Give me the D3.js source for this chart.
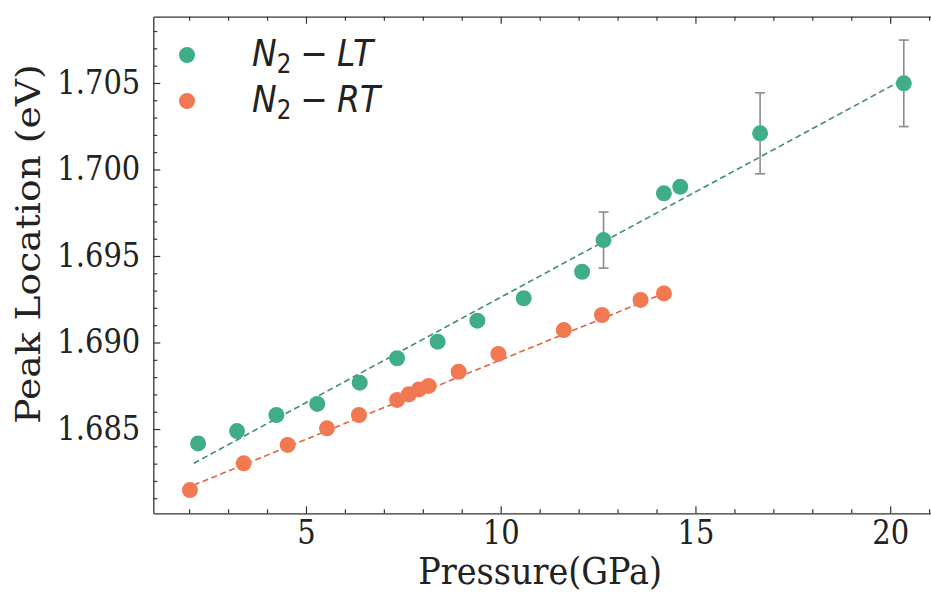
<!DOCTYPE html>
<html><head><meta charset="utf-8">
<script src="https://cdn.jsdelivr.net/npm/d3@7"></script>
<style>body{margin:0;background:#fff;overflow:hidden} svg{display:block}</style>
</head><body>
<svg id="chart" width="931" height="593"></svg>
<script>
// ---- data ----
const ltPressure = [2.23, 3.23, 4.24, 5.29, 6.38, 7.34, 8.38, 9.40, 10.59, 12.09, 12.64, 14.19, 14.61, 16.66, 20.35];
const ltPeak     = [1.68417, 1.68488, 1.68581, 1.68645, 1.68768, 1.68909, 1.69005, 1.69126, 1.69256, 1.69409, 1.69592, 1.69862, 1.69900, 1.70209, 1.70498];
const ltError    = [0, 0, 0, 0, 0, 0, 0, 0, 0, 0, 0.00162, 0, 0, 0.00234, 0.00250];
const rtPressure = [2.02, 3.40, 4.53, 5.54, 6.36, 7.34, 7.64, 7.90, 8.15, 8.92, 9.94, 11.62, 12.60, 13.59, 14.19];
const rtPeak     = [1.68147, 1.68302, 1.68408, 1.68504, 1.68581, 1.68668, 1.68701, 1.68729, 1.68749, 1.68831, 1.68934, 1.69072, 1.69159, 1.69246, 1.69284];
const ltFitPressure = [2.12, 20.27];
const ltFitPeak     = [1.68302, 1.70512];
const rtFitPressure = [2.12, 14.19];
const rtFitPeak     = [1.68176, 1.69284];
const xTickValues = [5, 10, 15, 20];
const yTickValues = [1.685, 1.690, 1.695, 1.700, 1.705];
const legendLabels = ["LT", "RT"];
const xLabel = "Pressure(GPa)";
const yLabel = "Peak Location (eV)";

// ---- layout / style ----
const pL = 153.3, pR = 941.6, pT = 16.7, pB = 513.3;
const SY = 1.125; // vertical text stretch seen in the reference
const green = "#3fae87", orange = "#f27852";
const greenLine = "#3f8d78", orangeLine = "#e2633e";
const axisColor = "#333";
const serif = "'DejaVu Serif', serif";

const svg = d3.select("#chart");
const x = d3.scaleLinear().domain([1.08, 21.32]).range([pL, pR]);
const y = d3.scaleLinear().domain([1.68013, 1.70883]).range([pB, pT]);

const xMinor = d3.range(2, 22, 1).filter(v => v % 5 !== 0);
const yMinor = d3.range(1681, 1709, 1).map(v => v / 1000).filter(v => Math.round(v * 1000) % 5 !== 0);

function styleAxis(g) {
  g.select(".domain").attr("stroke", axisColor).attr("stroke-width", 1.3);
  g.selectAll(".tick line").attr("stroke", axisColor).attr("stroke-width", 1.2);
}

// minor ticks
svg.append("g").attr("transform", `translate(0,${pB})`)
  .call(d3.axisBottom(x).tickValues(xMinor).tickSize(-4).tickFormat(""))
  .call(styleAxis).call(g => g.select(".domain").remove());
svg.append("g").attr("transform", `translate(0,${pT})`)
  .call(d3.axisTop(x).tickValues(xMinor).tickSize(-4).tickFormat(""))
  .call(styleAxis).call(g => g.select(".domain").remove());
svg.append("g").attr("transform", `translate(${pL},0)`)
  .call(d3.axisLeft(y).tickValues(yMinor).tickSize(-4).tickFormat(""))
  .call(styleAxis).call(g => g.select(".domain").remove());
svg.append("g").attr("transform", `translate(${pR},0)`)
  .call(d3.axisRight(y).tickValues(yMinor).tickSize(-4).tickFormat(""))
  .call(styleAxis).call(g => g.select(".domain").remove());

// major axes
const xAxis = svg.append("g").attr("transform", `translate(0,${pB})`)
  .call(d3.axisBottom(x).tickValues(xTickValues).tickSize(-7).tickSizeOuter(0).tickPadding(7).tickFormat(d3.format("d")))
  .call(styleAxis);
xAxis.selectAll("text").attr("font-family", serif).attr("font-size", 29).attr("fill", "#222")
  .attr("transform", `scale(1,${SY})`);
svg.append("g").attr("transform", `translate(0,${pT})`)
  .call(d3.axisTop(x).tickValues(xTickValues).tickSize(-7).tickSizeOuter(0).tickFormat(""))
  .call(styleAxis);
const yAxis = svg.append("g").attr("transform", `translate(${pL},0)`)
  .call(d3.axisLeft(y).tickValues(yTickValues).tickSize(-7).tickSizeOuter(0).tickPadding(13).tickFormat(d3.format(".3f")))
  .call(styleAxis);
yAxis.selectAll("text").attr("font-family", serif).attr("font-size", 29).attr("fill", "#222")
  .attr("transform", `scale(1,${SY})`);
svg.append("g").attr("transform", `translate(${pR},0)`)
  .call(d3.axisRight(y).tickValues(yTickValues).tickSize(-7).tickSizeOuter(0).tickFormat(""))
  .call(styleAxis);

// axis labels
svg.append("text").attr("transform", `translate(${(pL + 931) / 2 - 2},584) scale(1,${SY})`)
  .attr("text-anchor", "middle").attr("font-family", serif).attr("font-size", 33.5).attr("fill", "#222")
  .text(xLabel);
svg.append("text").attr("transform", `translate(40,${(pT + pB) / 2 - 21}) scale(1,${SY}) rotate(-90)`)
  .attr("text-anchor", "middle").attr("font-family", serif).attr("font-size", 33.5).attr("fill", "#222")
  .text(yLabel);

// fit lines
const line = d3.line().x(d => x(d[0])).y(d => y(d[1]));
svg.append("path").datum(d3.zip(ltFitPressure, ltFitPeak)).attr("d", line)
  .attr("fill", "none").attr("stroke", greenLine).attr("stroke-width", 1.6).attr("stroke-dasharray", "6,3.5");
svg.append("path").datum(d3.zip(rtFitPressure, rtFitPeak)).attr("d", line)
  .attr("fill", "none").attr("stroke", orangeLine).attr("stroke-width", 1.6).attr("stroke-dasharray", "6,3.5");

// error bars
const ltData = d3.zip(ltPressure, ltPeak, ltError);
const eb = svg.append("g").attr("stroke", "#8a8a8a").attr("stroke-width", 1.6);
ltData.filter(d => d[2] > 0).forEach(d => {
  const cx = x(d[0]), y1 = y(d[1] - d[2]), y2 = y(d[1] + d[2]);
  eb.append("line").attr("x1", cx).attr("x2", cx).attr("y1", y1).attr("y2", y2);
  eb.append("line").attr("x1", cx - 5).attr("x2", cx + 5).attr("y1", y1).attr("y2", y1);
  eb.append("line").attr("x1", cx - 5).attr("x2", cx + 5).attr("y1", y2).attr("y2", y2);
});

// points
svg.append("g").selectAll("circle").data(d3.zip(rtPressure, rtPeak)).join("circle")
  .attr("cx", d => x(d[0])).attr("cy", d => y(d[1])).attr("r", 8).attr("fill", orange);
svg.append("g").selectAll("circle").data(ltData).join("circle")
  .attr("cx", d => x(d[0])).attr("cy", d => y(d[1])).attr("r", 8).attr("fill", green);

// legend
const legendColors = [green, orange];
legendLabels.forEach((lab, i) => {
  const ly = 55 + i * 46;
  svg.append("circle").attr("cx", 187).attr("cy", ly).attr("r", 8).attr("fill", legendColors[i]);
  const t = svg.append("text").attr("transform", `translate(252,${ly + 11}) scale(1,${SY})`)
    .attr("font-family", "'DejaVu Sans', sans-serif").attr("font-size", 33).attr("fill", "#222");
  t.append("tspan").attr("font-style", "italic").text("N");
  t.append("tspan").attr("font-size", 23).attr("dy", 6).text("2");
  t.append("tspan").attr("dy", -6).attr("dx", 9).text("\u2212");
  t.append("tspan").attr("dx", 9).attr("font-style", "italic").text(lab);
});
</script>
</body></html>
